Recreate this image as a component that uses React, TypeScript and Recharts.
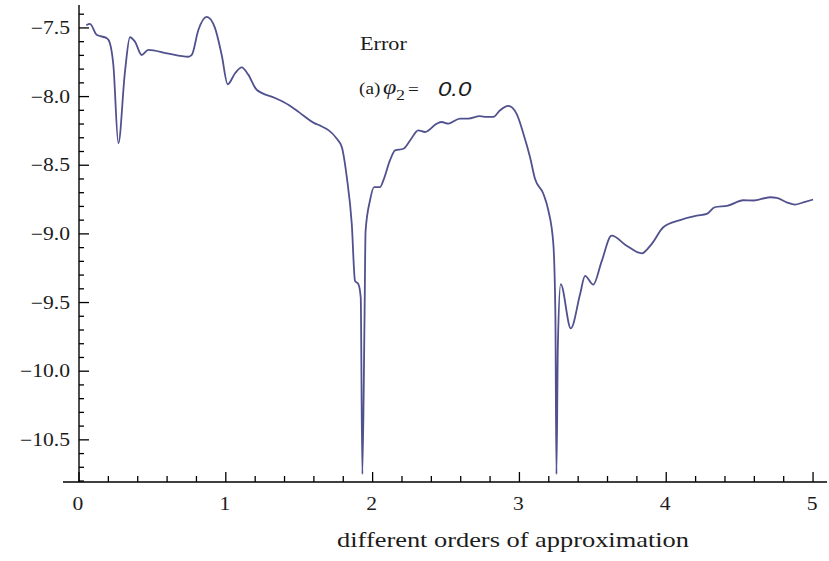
import { Line, LineChart, ReferenceLine, XAxis, YAxis } from 'recharts'

// approximation order (x) and log error (y) along the traced curve
const ORDER = [
  0.05, 0.075, 0.12, 0.19, 0.21, 0.234, 0.268, 0.313, 0.347, 0.381, 0.427, 0.472, 0.6, 0.745, 0.768,
  0.813, 0.87, 0.926, 0.972, 1.013, 1.063, 1.108, 1.153, 1.21, 1.335, 1.426, 1.5, 1.61, 1.64, 1.755,
  1.79, 1.824, 1.858, 1.88, 1.903, 1.919, 1.93, 1.945, 1.952, 1.982, 2.01, 2.05, 2.073, 2.118, 2.153,
  2.21, 2.255, 2.311, 2.357, 2.437, 2.47, 2.516, 2.595, 2.652, 2.73, 2.777, 2.822, 2.868, 2.924, 2.98,
  3.027, 3.072, 3.106, 3.163, 3.197, 3.231, 3.245, 3.252, 3.262, 3.281, 3.35, 3.413, 3.447, 3.503,
  3.56, 3.628, 3.73, 3.833, 3.9, 3.98, 4.094, 4.208, 4.276, 4.33, 4.42, 4.525, 4.593, 4.707, 4.753,
  4.82, 4.877, 4.934, 5.0,
]
const ERROR = [
  -7.48, -7.47, -7.55, -7.575, -7.61, -7.77, -8.34, -7.82, -7.568, -7.6, -7.697, -7.66, -7.685, -7.71, -7.697,
  -7.515, -7.42, -7.5, -7.697, -7.91, -7.83, -7.787, -7.84, -7.95, -8.01, -8.06, -8.115, -8.197, -8.21, -8.306,
  -8.368, -8.587, -8.928, -9.342, -9.366, -9.464, -10.75, -9.6, -8.98, -8.757, -8.66, -8.66, -8.611, -8.465, -8.392,
  -8.38, -8.32, -8.246, -8.258, -8.197, -8.185, -8.197, -8.16, -8.16, -8.143, -8.148, -8.148, -8.1, -8.068, -8.124,
  -8.27, -8.44, -8.599, -8.708, -8.83, -9.074, -9.6, -10.75, -9.8, -9.366, -9.688, -9.44, -9.306, -9.37,
  -9.2, -9.013, -9.086, -9.142, -9.074, -8.952, -8.9, -8.867, -8.855, -8.806, -8.794, -8.755, -8.757, -8.733, -8.738,
  -8.77, -8.787, -8.77, -8.75,
]

const X_MAJOR = [0, 1, 2, 3, 4, 5]
const Y_MAJOR = [-7.5, -8, -8.5, -9, -9.5, -10, -10.5]

// minor ticks every 0.2 on x and 0.1 on y
const X_TICKS = Array.from({ length: 26 }, (_, i) => (i * 2) / 10)
const Y_TICKS = Array.from({ length: 35 }, (_, i) => -(74 + i) / 10)

const X_DOMAIN: [number, number] = [-0.109, 5.095]
const Y_DOMAIN: [number, number] = [-10.807, -7.333]

const WIDTH = 829
const HEIGHT = 561
const Y_AXIS_W = 30
const X_AXIS_H = 30
// plot area runs from x=63 to 827 and y=5 to 482
const MARGIN = { top: 5, right: 2, bottom: 79 - X_AXIS_H, left: 63 - Y_AXIS_W }
const PLOT_W = WIDTH - 63 - MARGIN.right

// the vertical axis crosses at x = 0, inside the plot range
const Y_AXIS_SHIFT = (PLOT_W * (0 - X_DOMAIN[0])) / (X_DOMAIN[1] - X_DOMAIN[0])

const SERIF = '"Liberation Serif", "Times New Roman", serif'
const SANS = '"Liberation Sans", Arial, sans-serif'
const STRETCH = 1.2
const INK = '#1c1c1c'

const rows = ORDER.map((order, i) => ({ order, error: ERROR[i] }))

const formatTick = (v: number) => v.toFixed(1).replace('-', '\u2212')

function Wide({
  x,
  y,
  size,
  anchor = 'start',
  family = SERIF,
  italic = false,
  children,
}: {
  x: number
  y: number
  size: number
  anchor?: 'start' | 'middle' | 'end'
  family?: string
  italic?: boolean
  children: React.ReactNode
}) {
  return (
    <text
      transform={`translate(${x} ${y}) scale(${STRETCH} 1)`}
      textAnchor={anchor}
      fontFamily={family}
      fontStyle={italic ? 'italic' : 'normal'}
      fontSize={size}
      fill={INK}
    >
      {children}
    </text>
  )
}

function XTick({ x, y, payload }: { x?: number; y?: number; payload?: { value: number } }) {
  if (x == null || y == null || !payload) return null
  const major = X_MAJOR.includes(payload.value)
  return (
    <g>
      <line x1={x} x2={x} y1={y} y2={y - (major ? 10 : 6)} stroke="#000" strokeWidth={1.3} />
      {major && (
        <Wide x={x - 1} y={y + 28} size={18} anchor="middle">
          {payload.value}
        </Wide>
      )}
    </g>
  )
}

function YTick({ x, y, payload }: { x?: number; y?: number; payload?: { value: number } }) {
  if (x == null || y == null || !payload) return null
  const major = Y_MAJOR.includes(payload.value)
  const ax = x + Y_AXIS_SHIFT
  return (
    <g>
      <line x1={ax} x2={ax + (major ? 10 : 5)} y1={y} y2={y} stroke="#000" strokeWidth={1.3} />
      {major && (
        <Wide x={ax - 9} y={y + 6} size={18} anchor="end">
          {formatTick(payload.value)}
        </Wide>
      )}
    </g>
  )
}

export default function App() {
  return (
    <div style={{ position: 'absolute', left: 0, top: 0, width: WIDTH, height: HEIGHT, background: '#fff' }}>
      <LineChart width={WIDTH} height={HEIGHT} data={rows} margin={MARGIN}>
        <XAxis
          type="number"
          dataKey="order"
          domain={X_DOMAIN}
          ticks={X_TICKS}
          interval={0}
          allowDataOverflow
          height={X_AXIS_H}
          axisLine={{ stroke: '#000', strokeWidth: 1.4 }}
          tickLine={false}
          tickSize={0}
          tickMargin={0}
          tick={<XTick />}
        />
        <YAxis
          type="number"
          domain={Y_DOMAIN}
          ticks={Y_TICKS}
          interval={0}
          allowDataOverflow
          width={Y_AXIS_W}
          axisLine={false}
          tickLine={false}
          tickSize={0}
          tickMargin={0}
          tick={<YTick />}
        />
        <ReferenceLine x={0} stroke="#000" strokeWidth={1.4} />
        <Line
          type="monotone"
          dataKey="error"
          stroke="#51518f"
          strokeWidth={1.8}
          dot={false}
          isAnimationActive={false}
        />
      </LineChart>

      <svg
        width={WIDTH}
        height={HEIGHT}
        style={{ position: 'absolute', left: 0, top: 0, pointerEvents: 'none' }}
      >
        <Wide x={360} y={50} size={18.5}>
          Error
        </Wide>
        <Wide x={359} y={94} size={16}>
          (a)
        </Wide>
        <Wide x={383} y={94} size={20} italic>
          φ
        </Wide>
        <Wide x={396} y={100} size={15}>
          2
        </Wide>
        <Wide x={408} y={95} size={16}>
          =
        </Wide>
        <Wide x={438} y={96} size={20} family={SANS} italic>
          0.0
        </Wide>
        <Wide x={513} y={547} size={22} anchor="middle">
          different orders of approximation
        </Wide>
      </svg>
    </div>
  )
}
